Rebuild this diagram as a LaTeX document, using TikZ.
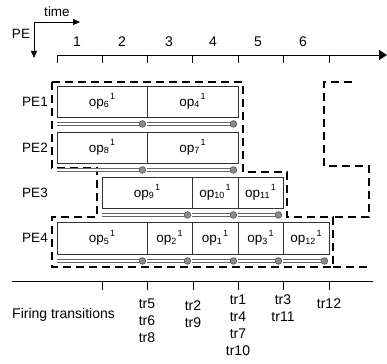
\documentclass[tikz,border=0pt]{standalone}
\usepackage{fontspec}
\setmainfont{Liberation Sans}
\usetikzlibrary{arrows.meta}
\newcommand\myop[1]{op\raisebox{-1.5pt}{\fontsize{9}{9}\selectfont #1}\hspace{1.2pt}\raisebox{6.5pt}{\fontsize{9}{9}\selectfont 1}}
\newcommand\mybar[1]{%
  \path (#1.south west) ++(0,6.5) coordinate (#1-l);
  \path (#1.south east) ++(-5,6.5) coordinate (#1-r);
  \draw[opline] (#1-l) -- (#1-r);
  \draw[oplinein] (#1-l) -- (#1-r);
  \draw[dotc] (#1-r) circle (3.3pt);}
\begin{document}
\begin{tikzpicture}[x=1pt,y=-1pt,
  opbox/.style={draw=black!80, line width=0.9pt, fill=white, inner sep=0pt,
    font=\fontsize{13.5}{15}\selectfont},
  lab/.style={inner sep=0pt, font=\fontsize{13.5}{15}\selectfont},
  blab/.style={inner sep=0pt, align=center, font=\fontsize{14}{17}\selectfont},
  opline/.style={draw=black!60, line width=3.6pt},
  oplinein/.style={draw=white, line width=1.3pt},
  dotc/.style={fill=black!45, draw=black!65, line width=0.7pt},
  dashb/.style={line width=2.2pt, dash pattern=on 8pt off 5pt, line join=miter},
  axis/.style={line width=0.8pt, black}]
\useasboundingbox (0,0) rectangle (387,363);

% corner arrows
\coordinate (o) at (34,22);
\coordinate (ot) at (80,22);
\coordinate (op) at (34,58);
\draw[axis, -{Triangle[length=7pt,width=6pt]}] (o) -- (ot);
\draw[axis, -{Triangle[length=7pt,width=6pt]}] (o) -- (op);
\node[lab] (time) at (57,12) {time};
\node[lab] (pe) at (21,34) {PE};

% time axis
\coordinate (a0) at (57,55);
\coordinate (a1) at (387,55);
\draw[axis, -{Triangle[length=8pt,width=10pt]}] (a0) -- (a1);
\foreach \x in {57,102,147,192,238,283,329} \draw[axis] (\x,55) -- (\x,63);
\foreach \x/\t in {77/1,122/2,169/3,213/4,258/5,303/6}
  \node[blab] (n\t) at (\x,42) {\t};

% row labels
\node[lab] (pe1) at (35,101.5) {PE1};
\node[lab] (pe2) at (35,147.5) {PE2};
\node[lab] (pe3) at (35,192.5) {PE3};
\node[lab] (pe4) at (35,238) {PE4};

% dashed outlines
\draw[dashb] (52,82) -- (243,82) -- (243,172) -- (287,172) -- (287,217) -- (333,217)
  -- (333,267) -- (52,267) -- (52,217) -- (97,217) -- (97,168) -- (52,168) -- cycle;
\draw[dashb] (352,82) -- (324,82) -- (324,166) -- (369,166) -- (369,217) -- (333,217);
\draw[dashb] (333,267) -- (370,267);

% PE1
\node[opbox, minimum width=90pt, minimum height=31pt] (op6) at (102,101.5) {\myop{6}};
\node[opbox, minimum width=91pt, minimum height=31pt] (op4) at (192.5,101.5) {\myop{4}};
% PE2
\node[opbox, minimum width=90pt, minimum height=31pt] (op8) at (102,147.5) {\myop{8}};
\node[opbox, minimum width=91pt, minimum height=31pt] (op7) at (192.5,147.5) {\myop{7}};
% PE3
\node[opbox, minimum width=90pt, minimum height=31pt] (op9) at (147,192.5) {\myop{9}};
\node[opbox, minimum width=46pt, minimum height=31pt] (op10) at (215,192.5) {\myop{10}};
\node[opbox, minimum width=45pt, minimum height=31pt] (op11) at (260.5,192.5) {\myop{11}};
% PE4
\node[opbox, minimum width=90pt, minimum height=32pt] (op5) at (102,238) {\myop{5}};
\node[opbox, minimum width=45pt, minimum height=32pt] (op2) at (169.5,238) {\myop{2}};
\node[opbox, minimum width=46pt, minimum height=32pt] (op1) at (215,238) {\myop{1}};
\node[opbox, minimum width=45pt, minimum height=32pt] (op3) at (260.5,238) {\myop{3}};
\node[opbox, minimum width=46pt, minimum height=32pt] (op12) at (306,238) {\myop{12}};

\mybar{op6}\mybar{op4}
\mybar{op8}\mybar{op7}
\mybar{op9}\mybar{op10}\mybar{op11}
\mybar{op5}\mybar{op2}\mybar{op1}\mybar{op3}\mybar{op12}

% firing transitions
\coordinate (b0) at (12,281);
\coordinate (b1) at (373,281);
\draw[line width=0.8pt] (b0) -- (b1);
\foreach \x in {102,147,193,238,283,329} \draw[line width=0.8pt] (\x,281) -- (\x,290);
\node[blab, anchor=west] (ft) at (12,315) {Firing transitions};
\node[blab] (c1) at (147,321) {tr5\\tr6\\tr8};
\node[blab] (c2) at (193,314.5) {tr2\\tr9};
\node[blab] (c3) at (238,325.5) {tr1\\tr4\\tr7\\tr10};
\node[blab] (c4) at (283,308.5) {tr3\\tr11};
\node[blab] (c5) at (329,304) {tr12};
\end{tikzpicture}
\end{document}
